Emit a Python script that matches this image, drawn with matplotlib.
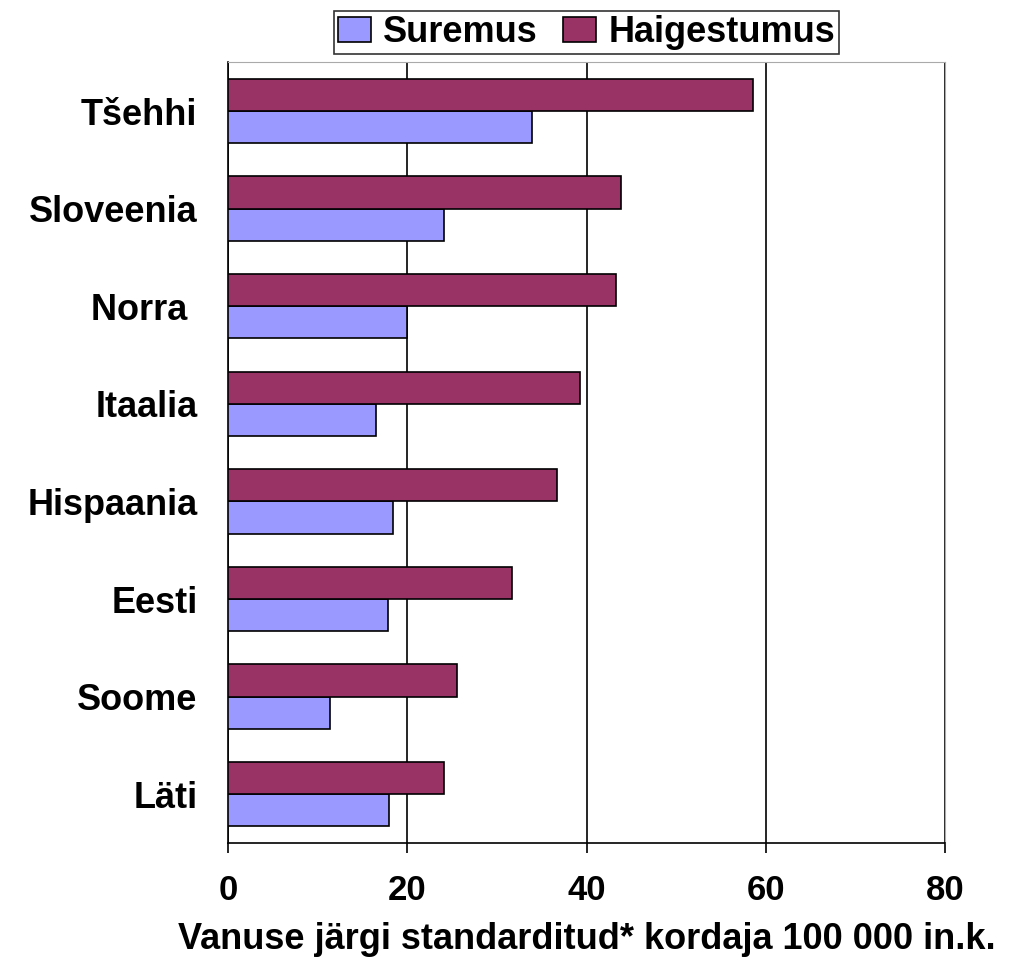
import matplotlib.pyplot as plt
import numpy as np

plt.rcParams["font.family"] = ["Liberation Sans", "DejaVu Sans"]
plt.rcParams["font.weight"] = "bold"

# Data (top to bottom as shown)
countries = ["Tšehhi", "Sloveenia", "Norra ", "Itaalia", "Hispaania", "Eesti", "Soome", "Läti"]
suremus = [33.9, 24.1, 20.0, 16.5, 18.4, 17.8, 11.4, 18.0]
haigestumus = [58.6, 43.8, 43.3, 39.3, 36.7, 31.7, 25.5, 24.1]

fig = plt.figure(figsize=(10.09, 9.58), dpi=100)
ax = fig.add_axes([0.226, 0.12, 0.7106, 0.815])

y = np.arange(len(countries))
h = 0.33
ax.barh(y + h / 2, suremus, height=h, color="#9999FF", edgecolor="#000000",
        linewidth=1.2, label="Suremus", zorder=3)
ax.barh(y - h / 2, haigestumus, height=h, color="#993366", edgecolor="#000000",
        linewidth=1.2, label="Haigestumus", zorder=3)

ax.set_xlim(0, 80)
ax.set_ylim(len(countries) - 0.5, -0.5)
ax.set_xticks([0, 20, 40, 60, 80])
ax.set_yticks(y)
ax.set_yticklabels(countries, fontsize=26, fontweight="bold")
ax.tick_params(axis="y", length=0, pad=22)
ax.tick_params(axis="x", labelsize=25, length=7, width=1.2, direction="out", pad=15)
for lab in ax.get_xticklabels():
    lab.set_fontweight("bold")

ax.grid(axis="x", color="black", linewidth=1.2, zorder=0)
for s in ["top", "right"]:
    ax.spines[s].set_color("#aaaaaa")
for s in ["left", "bottom"]:
    ax.spines[s].set_color("black")
    ax.spines[s].set_linewidth(1.2)

ax.set_xlabel("Vanuse järgi standarditud* kordaja 100 000 in.k.", fontsize=26,
              fontweight="bold", labelpad=11, x=0.5)

leg = ax.legend(loc="lower center", bbox_to_anchor=(0.5, 1.0), ncol=2,
                fontsize=26, frameon=True, fancybox=False, edgecolor="black",
                handlelength=0.9, handleheight=0.7, handletextpad=0.35,
                columnspacing=0.7, borderpad=0.12, borderaxespad=0.22)
leg.get_frame().set_linewidth(1.2)
for t in leg.get_texts():
    t.set_fontweight("bold")

fig.savefig("out.png", dpi=100)
